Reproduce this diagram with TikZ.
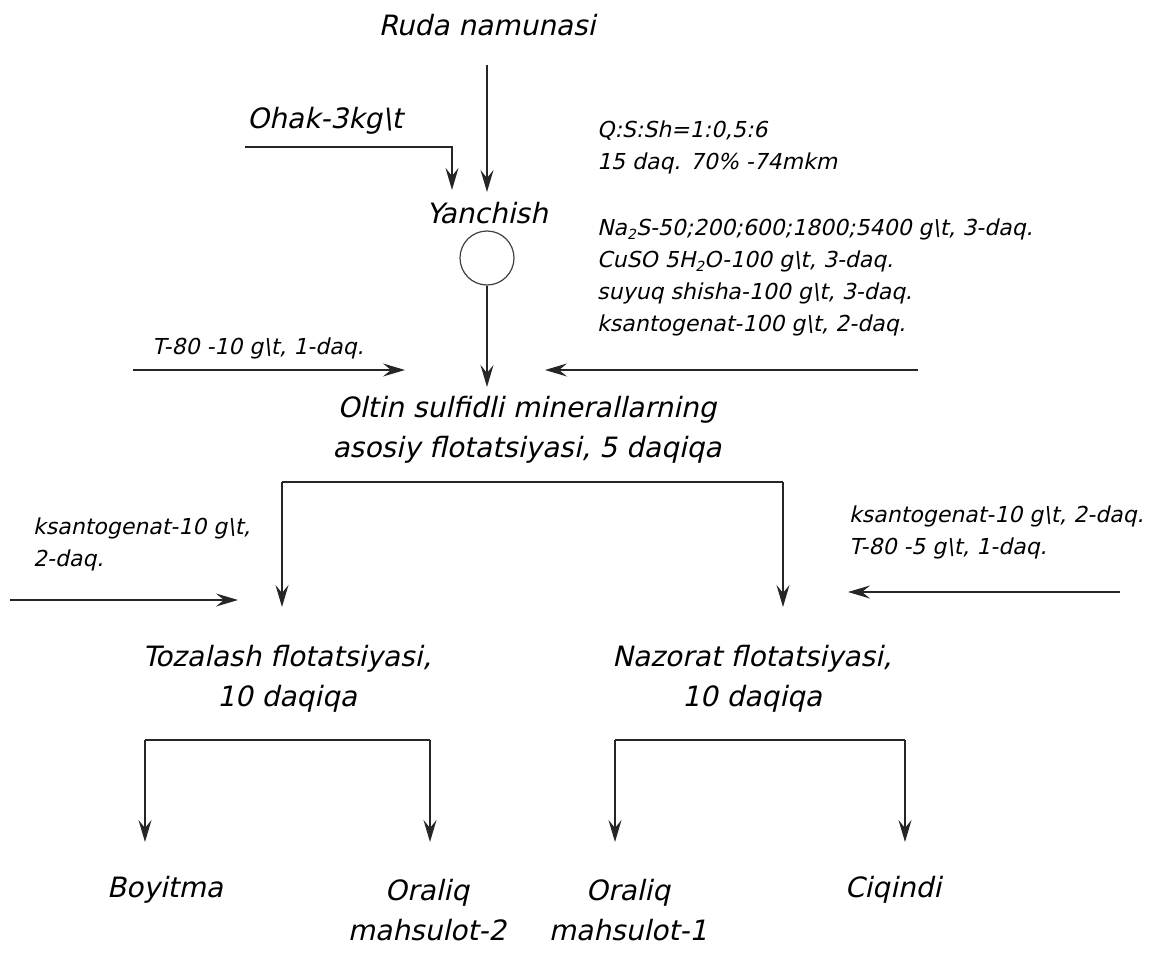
\documentclass[tikz,border=0pt]{standalone}
\usepackage{fontspec}
\setmainfont{DejaVu Sans}
\newfontfamily\cadfont{DejaVu Sans}[FakeSlant=0.22]
\usetikzlibrary{arrows.meta}
\newcommand{\lowidx}[1]{\raisebox{-0.15em}{\fontsize{14}{14}\selectfont #1}}
\tikzset{
  bigtxt/.style={font=\cadfont\fontsize{28}{40}\selectfont, inner sep=0pt, align=center},
  smalltxt/.style={font=\cadfont\fontsize{22}{32}\selectfont, inner sep=0pt, align=left},
  ln/.style={line width=1.4pt, draw=black!85},
  arr/.style={ln, -{Stealth[length=22pt,width=13pt,inset=8pt]}}
}
\begin{document}
\begin{tikzpicture}[x=1pt,y=-1pt]
\useasboundingbox (0,0) rectangle (1159,955);
% texts
\node[bigtxt] (ruda) at (487,25) {Ruda namunasi};
\node[bigtxt, anchor=west] (ohak) at (247,121) {Ohak-3kg\textbackslash t};
\node[bigtxt] (yanch) at (487,213) {Yanchish};
\node[draw=black!75, line width=1.2pt, circle, minimum size=54pt, inner sep=0pt] (circ) at (487,258) {};
\node[smalltxt, anchor=north west] (reagA) at (597,121) {Q:S:Sh=1:0,5:6\\15 daq. 70\% -74mkm};
\node[smalltxt, anchor=north west] (reagB) at (597,219) {Na\lowidx{2}S-50;200;600;1800;5400 g\textbackslash t, 3-daq.\\CuSO 5H\lowidx{2}O-100 g\textbackslash t, 3-daq.\\suyuq shisha-100 g\textbackslash t, 3-daq.\\ksantogenat-100 g\textbackslash t, 2-daq.};
\node[smalltxt] (t80) at (258,348) {T-80 -10 g\textbackslash t, 1-daq.};
\node[bigtxt] (main) at (527,430) {Oltin sulfidli minerallarning\\asosiy flotatsiyasi, 5 daqiqa};
\node[smalltxt, anchor=north west] (kleft) at (33,518) {ksantogenat-10 g\textbackslash t,\\2-daq.};
\node[smalltxt, anchor=north west] (kright) at (849,506) {ksantogenat-10 g\textbackslash t, 2-daq.\\T-80 -5 g\textbackslash t, 1-daq.};
\node[bigtxt] (toz) at (287,679) {Tozalash flotatsiyasi,\\10 daqiqa};
\node[bigtxt] (naz) at (752,679) {Nazorat flotatsiyasi,\\10 daqiqa};
\node[bigtxt] (boy) at (165,890) {Boyitma};
\node[bigtxt] (or2) at (427,910) {Oraliq\\mahsulot-2};
\node[bigtxt] (or1) at (628,910) {Oraliq\\mahsulot-1};
\node[bigtxt] (ciq) at (893,890) {Ciqindi};
% coordinates
\coordinate (r0) at (487,65);
\coordinate (r1) at (487,192);
\coordinate (o0) at (245,147);
\coordinate (o1) at (452,190);
\coordinate (m1) at (487,387);
\coordinate (t0) at (133,370);
\coordinate (t1) at (405,370);
\coordinate (g0) at (918,370);
\coordinate (g1) at (545,370);
\coordinate (s0) at (282,482);
\coordinate (s1) at (783,482);
\coordinate (sl) at (282,607);
\coordinate (sr) at (783,607);
\coordinate (k0) at (10,600);
\coordinate (k1) at (238,600);
\coordinate (q0) at (1120,592);
\coordinate (q1) at (848,592);
\coordinate (a0) at (145,740);
\coordinate (a1) at (430,740);
\coordinate (a2) at (145,842);
\coordinate (a3) at (430,842);
\coordinate (b0) at (615,740);
\coordinate (b1) at (905,740);
\coordinate (b2) at (615,842);
\coordinate (b3) at (905,842);
% connectors
\draw[arr] (r0) -- (r1);
\draw[arr] (o0) -| (o1);
\draw[arr] (circ.south) -- (m1);
\draw[arr] (t0) -- (t1);
\draw[arr] (g0) -- (g1);
\draw[ln] (s0) -- (s1);
\draw[arr] (s0) -- (sl);
\draw[arr] (s1) -- (sr);
\draw[arr] (k0) -- (k1);
\draw[arr] (q0) -- (q1);
\draw[ln] (a0) -- (a1);
\draw[arr] (a0) -- (a2);
\draw[arr] (a1) -- (a3);
\draw[ln] (b0) -- (b1);
\draw[arr] (b0) -- (b2);
\draw[arr] (b1) -- (b3);
\end{tikzpicture}
\end{document}
